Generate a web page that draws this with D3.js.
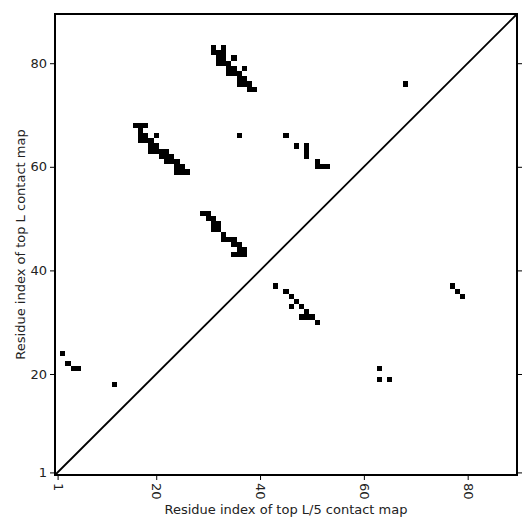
<!doctype html>
<html lang="en-US">
<head>
<meta charset="UTF-8">
<title>Contact map</title>
<script src="https://d3js.org/d3.v7.min.js"></script>
<style>
  body { margin: 0; background: #fff; }
  svg text { font-family: "DejaVu Sans", sans-serif; fill: #222; }
</style>
</head>
<body>
<div id="viz"></div>
<script type="text/javascript">

// residue pairs (x = top L/5 map index, y = top L map index)
var residueX = [16,17,18, 17, 17,18,20, 17,18,19, 19,20, 19,20,21,22, 21,22,23, 22,23,24, 24,25, 24,25,26,
                29,30, 30,31, 31,32, 31,32, 33, 33,34,35, 35,36, 36,37, 35,36,37,
                31,33, 31,32,33, 32,33,35, 32,33,34, 34,35,37, 34,35,36, 36,37, 36,37,38, 38,39,
                36, 45, 47, 49,49,49, 51,51,52,53,
                43, 45, 46, 47, 46,48, 49, 48,49,50, 51,
                2, 3, 4,5, 12,
                63, 63,65,
                77, 78, 79,
                68];
var residueY = [68,68,68, 67, 66,66,66, 65,65,65, 64,64, 63,63,63,63, 62,62,62, 61,61,61, 60,60, 59,59,59,
                51,51, 50,50, 49,49, 48,48, 47, 46,46,46, 45,45, 44,44, 43,43,43,
                83,83, 82,82,82, 81,81,81, 80,80,80, 79,79,79, 78,78,78, 77,77, 76,76,76, 75,75,
                66, 66, 64, 64,63,62, 61,60,60,60,
                37, 36, 35, 34, 33,33, 32, 31,31,31, 30,
                24, 22, 21,21, 18,
                21, 19,19,
                37, 36, 35,
                76];
var tickVals = [1, 20, 40, 60, 80];
var seqLen = 89;

var mLeft = 55, mTop = 14, mRight = 517, mBottom = 475;

var svg = d3.select('#viz').append('svg').attr('width', 531).attr('height', 531);

var x = d3.scaleLinear().domain([0.5, seqLen + 0.5]).range([mLeft, mRight]);
var y = d3.scaleLinear().domain([0.5, seqLen + 0.5]).range([mBottom, mTop]);

// contact cells
var pts = residueX.map(function(d, ii) { return [d, residueY[ii]]; });
svg.append('g').selectAll('rect').data(pts).enter().append('rect')
  .attr('x', function(d) { return x(d[0] - 0.5); })
  .attr('y', function(d) { return y(d[1] + 0.5); })
  .attr('width', function(d) { return x(d[0] + 0.5) - x(d[0] - 0.5); })
  .attr('height', function(d) { return y(d[1] - 0.5) - y(d[1] + 0.5); })
  .attr('fill', 'black')
  .attr('shape-rendering', 'crispEdges');

// diagonal
svg.append('line')
  .attr('x1', x(0.5)).attr('y1', y(0.5))
  .attr('x2', x(seqLen + 0.5)).attr('y2', y(seqLen + 0.5))
  .attr('stroke', 'black').attr('stroke-width', 1.8);

// axes
var xAxis = svg.append('g').attr('transform', 'translate(0,' + mBottom + ')')
  .call(d3.axisBottom(x).tickValues(tickVals).tickSize(5).tickSizeOuter(0));
xAxis.selectAll('text')
  .attr('transform', 'translate(0,8) rotate(90)')
  .attr('x', 0).attr('y', 0).attr('dy', '0.35em')
  .style('text-anchor', 'start');

var yAxis = svg.append('g').attr('transform', 'translate(' + mLeft + ',0)')
  .call(d3.axisLeft(y).tickValues(tickVals).tickSize(5).tickSizeOuter(0));

svg.append('g').attr('transform', 'translate(' + mRight + ',0)')
  .call(d3.axisRight(y).tickValues(tickVals).tickSize(5).tickSizeOuter(0).tickFormat(''));

svg.selectAll('.tick text').style('font-size', '13px').style('font-family', '"DejaVu Sans", sans-serif').attr('fill', '#222');
svg.selectAll('.tick line').attr('stroke', 'black').attr('stroke-width', 1);
svg.selectAll('.domain').remove();

// frame
svg.append('rect')
  .attr('x', mLeft).attr('y', mTop)
  .attr('width', mRight - mLeft).attr('height', mBottom - mTop)
  .attr('fill', 'none').attr('stroke', 'black').attr('stroke-width', 2);

svg.append('text')
  .attr('x', (mLeft + mRight) / 2).attr('y', 514)
  .attr('text-anchor', 'middle').style('font-size', '13px')
  .text('Residue index of top L/5 contact map');

svg.append('text')
  .attr('transform', 'translate(25,' + ((mTop + mBottom) / 2) + ') rotate(-90)')
  .attr('text-anchor', 'middle').style('font-size', '13px')
  .text('Residue index of top L contact map');

</script>
</body>
</html>
